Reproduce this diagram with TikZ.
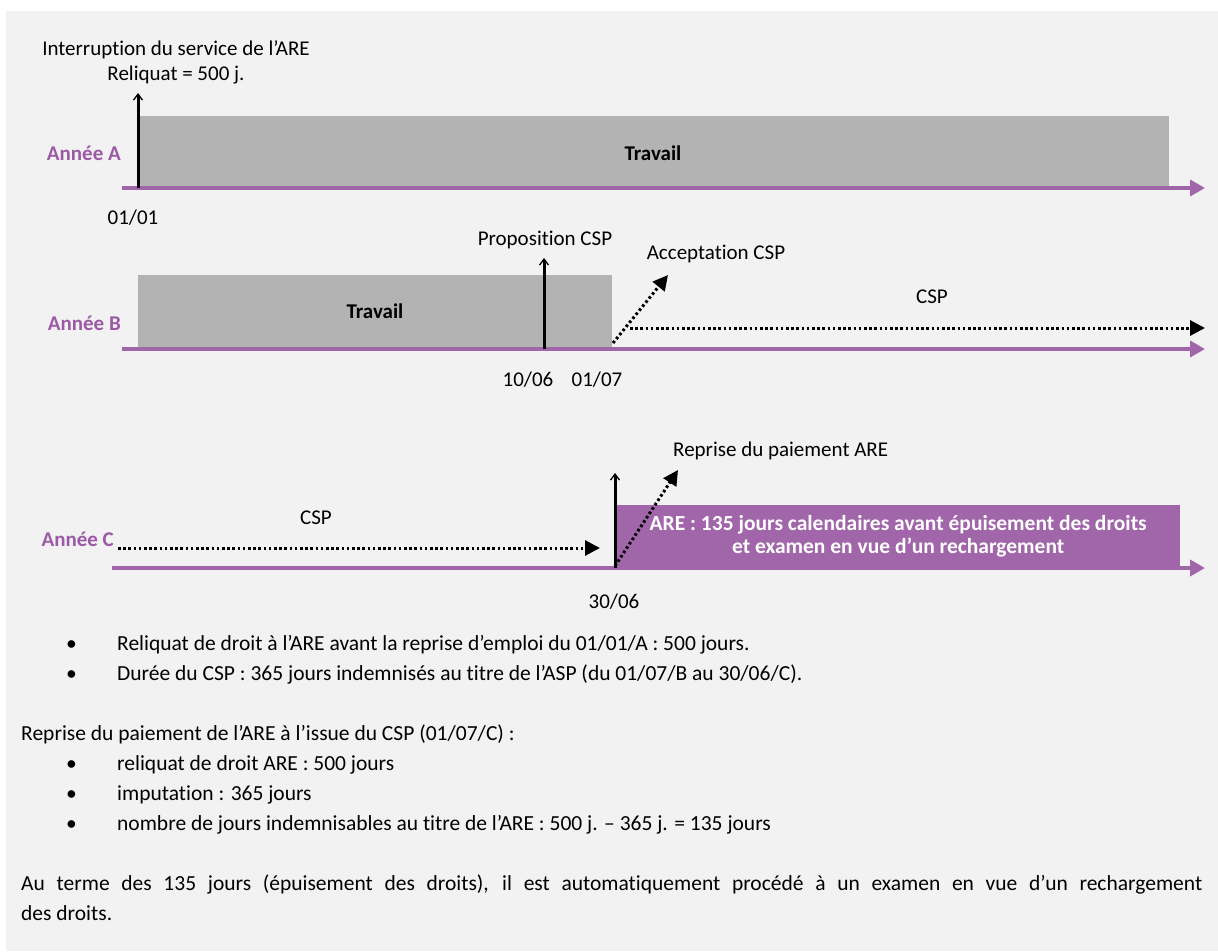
\documentclass[tikz,border=0pt]{standalone}
\usepackage{fontspec}
\setmainfont{Carlito}[Ligatures={NoCommon,NoRare}]
\usetikzlibrary{arrows.meta}
\definecolor{bg}{HTML}{F2F2F2}
\definecolor{work}{HTML}{B3B3B3}
\definecolor{violet}{RGB}{161,101,170}
\definecolor{yearcol}{RGB}{155,89,166}
\begin{document}
\begin{tikzpicture}[x=1pt,y=-1pt,
 axis/.style={draw=violet,line width=4pt,-{Triangle[length=15pt,width=16pt]}},
 event/.style={draw=black,line width=3pt,-{Straight Barb[length=6pt,width=9pt,line width=1.3pt]}},
 dotarrow/.style={draw=black,line width=3pt,dash pattern=on 2.6pt off 2.6pt,-{Triangle[length=15pt,width=15pt]}},
 lbl/.style={font=\fontsize{21}{25}\selectfont,inner sep=0pt,align=center},
 yearlbl/.style={font=\fontsize{21}{25}\selectfont\bfseries,text=yearcol,inner sep=0pt,anchor=east},
 worklbl/.style={font=\fontsize{21}{25}\selectfont\bfseries,inner sep=0pt},
 body/.style={font=\fontsize{21.5}{30}\selectfont,inner sep=0pt,anchor=west,text height=14pt,text depth=4pt},
 workbox/.style={fill=work,draw=none},
]
\useasboundingbox (0,0) rectangle (1218,951);
\fill[white] (0,0) rectangle (1218,951);
\fill[bg] (6,11) rectangle (1218,951);

% ---------- Year A ----------
\coordinate (A0) at (122,188);
\coordinate (A1) at (1205,188);
\fill[workbox] (138,116) rectangle (1169,188);
\draw[axis] (A0) -- (A1);
\coordinate (Ae0) at (138,188);
\coordinate (Ae1) at (138,93);
\draw[event] (Ae0) -- (Ae1);
\node[lbl] (interr) at (176,62) {Interruption du service de l’ARE\\Reliquat = 500 j.};
\node[yearlbl] (anA) at (121,153) {Année A};
\node[worklbl] (travA) at (653,153) {Travail};
\node[lbl] (d0101) at (133,218) {01/01};

% ---------- Year B ----------
\coordinate (B0) at (122,349);
\coordinate (B1) at (1205,349);
\fill[workbox] (138,275) rectangle (612,349);
\draw[axis] (B0) -- (B1);
\node[yearlbl] (anB) at (121,323) {Année B};
\node[worklbl] (travB) at (375,311) {Travail};
\coordinate (Be0) at (544,349);
\coordinate (Be1) at (544,258);
\draw[event] (Be0) -- (Be1);
\node[lbl] (prop) at (545,240) {Proposition CSP};
\coordinate (Bd0) at (613,343);
\coordinate (Bd1) at (668,275);
\draw[dotarrow] (Bd0) -- (Bd1);
\node[lbl] (accept) at (716,254) {Acceptation CSP};
\coordinate (Bc0) at (630,328);
\coordinate (Bc1) at (1205,328);
\draw[dotarrow] (Bc0) -- (Bc1);
\node[lbl] (cspB) at (932,297) {CSP};
\node[lbl] (d1006) at (528,380) {10/06};
\node[lbl] (d0107) at (597,380) {01/07};

% ---------- Year C ----------
\coordinate (C0) at (112,568);
\coordinate (C1) at (1205,568);
\node[fill=violet,inner sep=0pt,minimum width=564pt,minimum height=63pt,anchor=south west,
      text=white,font=\fontsize{21.5}{23.5}\selectfont\bfseries,align=center] (are) at (616,568)
      {ARE : 135 jours calendaires avant épuisement des droits\\et examen en vue d’un rechargement};
\draw[axis] (C0) -- (C1);
\node[yearlbl] (anC) at (114,539) {Année C};
\coordinate (Cc0) at (118,548);
\coordinate (Cc1) at (600,548);
\draw[dotarrow] (Cc0) -- (Cc1);
\node[lbl] (cspC) at (316,518) {CSP};
\coordinate (Ce0) at (615,568);
\coordinate (Ce1) at (615,473);
\draw[event] (Ce0) -- (Ce1);
\coordinate (Cd0) at (615,566);
\coordinate (Cd1) at (678,470);
\draw[dotarrow] (Cd0) -- (Cd1);
\node[lbl,anchor=west] (reprise) at (673,451) {Reprise du paiement ARE};
\node[lbl] (d3006) at (614,602) {30/06};

% ---------- Text ----------
\node[body] (b1) at (66,645) {•};
\node[body] (t1) at (117,645) {Reliquat de droit à l’ARE avant la reprise d’emploi du 01/01/A : 500 jours.};
\node[body] (b2) at (66,675) {•};
\node[body] (t2) at (117,675) {Durée du CSP : 365 jours indemnisés au titre de l’ASP (du 01/07/B au 30/06/C).};
\node[body] (t3) at (21,735) {Reprise du paiement de l’ARE à l’issue du CSP (01/07/C) :};
\node[body] (b4) at (66,765) {•};
\node[body] (t4) at (117,765) {reliquat de droit ARE : 500 jours};
\node[body] (b5) at (66,795) {•};
\node[body] (t5) at (117,795) {imputation : 365 jours};
\node[body] (b6) at (66,825) {•};
\node[body] (t6) at (117,825) {nombre de jours indemnisables au titre de l’ARE : 500 j. – 365 j. = 135 jours};
\node[body] (t7) at (21,885) {\makebox[1181pt][s]{Au terme des 135 jours (épuisement des droits), il est automatiquement procédé à un examen en vue d’un rechargement}};
\node[body] (t8) at (21,915) {des droits.};
\end{tikzpicture}
\end{document}
